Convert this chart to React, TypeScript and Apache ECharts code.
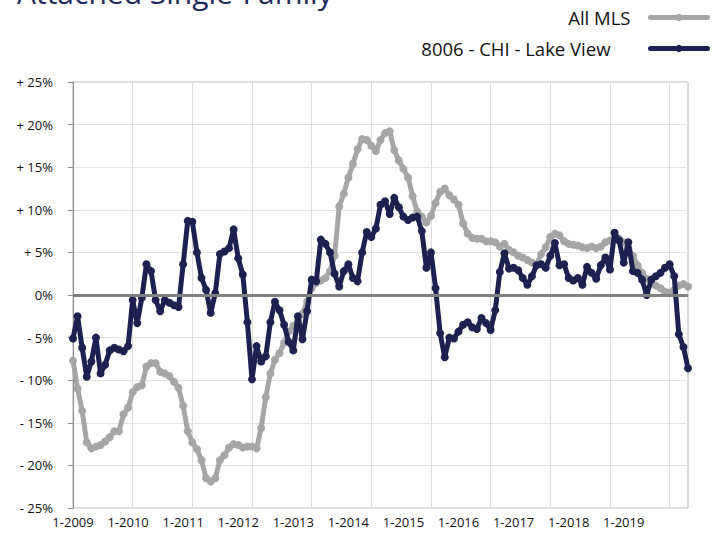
import React, { useEffect, useRef } from "react";
import * as echarts from "echarts";

const startYear = 2009;
const monthCount = 135; // Jan 2009 .. Mar 2020

const lakeView: number[] = [
  -5.1, -2.5, -6.2, -9.6, -7.8, -5.0, -9.2, -8.2, -6.5, -6.2, -6.4, -6.6,
  -6.0, -0.6, -3.3, -0.3, 3.6, 2.8, -0.6, -1.9, -0.6, -0.9, -1.2, -1.4,
  3.6, 8.7, 8.6, 5.0, 2.0, 0.6, -2.1, 0.2, 4.8, 5.1, 5.5, 7.7,
  4.3, 2.4, -3.2, -9.9, -6.0, -7.8, -7.2, -3.2, -0.8, -1.8, -3.5, -5.5,
  -6.5, -2.5, -5.2, -1.9, 1.8, 1.6, 6.5, 6.0, 5.0, 2.5, 1.0, 2.8,
  3.6, 2.0, 1.6, 5.0, 7.4, 6.8, 7.8, 10.6, 11.0, 9.5, 11.4, 10.3,
  9.2, 8.8, 9.1, 9.2, 7.5, 3.2, 5.0, 0.8, -4.5, -7.3, -5.0, -5.1,
  -4.3, -3.5, -3.2, -3.8, -4.0, -2.7, -3.3, -4.1, -1.8, 2.7, 4.9, 3.1,
  3.2, 2.9, 2.0, 1.2, 2.2, 3.5, 3.6, 3.2, 4.6, 6.1, 3.5, 3.6,
  2.0, 1.7, 2.0, 1.2, 3.3, 2.6, 1.9, 3.5, 4.4, 3.0, 7.3, 6.4,
  3.8, 6.2, 2.8, 2.6, 1.8, 0.0, 1.8, 2.2, 2.6, 3.2, 3.6, 2.2,
  -4.6, -6.1, -8.6,
];

const allMls: number[] = [
  -7.7, -11.0, -13.6, -17.3, -18.0, -17.8, -17.6, -17.2, -16.7, -16.0, -16.0, -14.0,
  -13.2, -11.4, -10.8, -10.6, -8.4, -8.0, -8.0, -9.0, -9.2, -9.5, -10.2, -10.9,
  -13.0, -16.0, -17.3, -18.1, -19.4, -21.5, -21.9, -21.5, -19.4, -18.8, -17.9, -17.5,
  -17.6, -17.9, -17.8, -17.8, -18.0, -15.6, -12.0, -9.2, -7.6, -6.8, -5.6, -4.3,
  -3.6, -3.0, -2.2, -0.8, 0.8, 1.4, 1.7, 2.0, 2.8, 4.6, 10.4, 11.9,
  13.8, 15.4, 17.1, 18.3, 18.2, 17.5, 16.9, 18.2, 19.0, 19.2, 17.0, 15.8,
  14.8, 13.8, 11.6, 9.8, 9.2, 8.5, 9.3, 10.8, 12.1, 12.5, 11.7, 11.2,
  10.6, 8.4, 7.2, 6.7, 6.6, 6.6, 6.3, 6.3, 6.2, 5.7, 6.0, 5.3,
  5.0, 4.6, 4.4, 4.1, 3.8, 3.6, 4.8, 5.6, 6.8, 7.2, 7.0, 6.3,
  6.0, 5.9, 5.8, 5.6, 5.5, 5.7, 5.5, 5.7, 6.2, 6.4, 6.5, 6.6,
  6.2, 5.5, 4.6, 3.5, 2.6, 1.9, 1.5, 1.1, 0.8, 0.4, 0.3, 0.6,
  1.1, 1.3, 1.0,
];

const categories: string[] = Array.from({ length: monthCount }, (_, i) => {
  const y = startYear + Math.floor(i / 12);
  const m = (i % 12) + 1;
  return `${m}-${y}`;
});

const yTicks = { min: -25, max: 25, step: 5 };

const seriesNames = ["All MLS", "8006 - CHI - Lake View"];
const titleText = "Attached Single-Family";

const FONT = "'Open Sans', sans-serif";
const NAVY = "#1c2150";
const GRAY = "#a6a6a6";

export default function App() {
  const ref = useRef<HTMLDivElement>(null);
  useEffect(() => {
    if (!ref.current) return;
    const chart = echarts.init(ref.current, null, { renderer: "svg" });
    const legendCommon = {
      align: "right",
      right: 8,
      padding: 0,
      itemWidth: 57,
      itemHeight: 9,
      lineStyle: { width: 5, cap: "round" },
    };
    chart.setOption({
      animation: false,
      backgroundColor: "#ffffff",
      textStyle: { fontFamily: FONT },
      graphic: [
        {
          type: "text",
          left: 17,
          top: -23,
          style: {
            text: titleText,
            fontFamily: FONT,
            fontSize: 30,
            fill: "#1f2a5c",
          },
        },
      ],
      legend: [
        {
          ...legendCommon,
          data: [seriesNames[0]],
          top: 8,
          textStyle: { fontFamily: FONT, fontSize: 18.5, color: "#111", padding: [0, 15, 0, 0] },
        },
        {
          ...legendCommon,
          data: [seriesNames[1]],
          top: 39,
          textStyle: { fontFamily: FONT, fontSize: 18.5, color: "#111", padding: [0, 35, 0, 0] },
        },
      ],
      grid: {
        left: 73,
        right: 30,
        top: 82,
        bottom: 27,
        show: true,
        borderColor: "#b4b4b4",
        borderWidth: 1,
      },
      xAxis: {
        type: "category",
        data: categories,
        boundaryGap: false,
        axisLine: { show: true, lineStyle: { color: "#8c8c8c", width: 1 } },
        axisTick: { show: false },
        axisLabel: {
          interval: (index: number) => index % 12 === 0 && index <= 120,
          fontFamily: FONT,
          fontSize: 13,
          color: "#111",
          margin: 7,
        },
        splitLine: {
          show: true,
          interval: (index: number) => index % 13 === 0,
          lineStyle: { color: "#dcdcdc", width: 1 },
        },
      },
      yAxis: {
        type: "value",
        min: yTicks.min,
        max: yTicks.max,
        interval: yTicks.step,
        axisLine: { show: true, lineStyle: { color: "#8c8c8c", width: 1 } },
        axisTick: { show: true, length: 5, lineStyle: { color: "#8c8c8c" } },
        axisLabel: {
          fontFamily: FONT,
          fontSize: 13,
          color: "#111",
          margin: 20,
          formatter: (v: number) =>
            v > 0 ? `+ ${v}%` : v < 0 ? `- ${-v}%` : "0%",
        },
        splitLine: { show: true, lineStyle: { color: "#e2e2e2", width: 1 } },
      },
      series: [
        {
          name: "zero",
          type: "line",
          data: [],
          z: 1,
          silent: true,
          markLine: {
            silent: true,
            symbol: "none",
            label: { show: false },
            lineStyle: { color: "#808080", width: 3, type: "solid" },
            data: [{ yAxis: 0 }],
          },
        },
        {
          name: seriesNames[0],
          type: "line",
          data: allMls,
          z: 2,
          symbol: "circle",
          symbolSize: 8,
          showAllSymbol: true,
          color: GRAY,
          lineStyle: { color: GRAY, width: 5 },
          itemStyle: { color: GRAY },
        },
        {
          name: seriesNames[1],
          type: "line",
          data: lakeView,
          z: 3,
          symbol: "circle",
          symbolSize: 8,
          showAllSymbol: true,
          color: NAVY,
          lineStyle: { color: NAVY, width: 5 },
          itemStyle: { color: NAVY },
        },
      ],
    });
    return () => chart.dispose();
  }, []);
  return (
    <div
      ref={ref}
      style={{ position: "absolute", left: 0, top: 0, width: 718, height: 535 }}
    />
  );
}
